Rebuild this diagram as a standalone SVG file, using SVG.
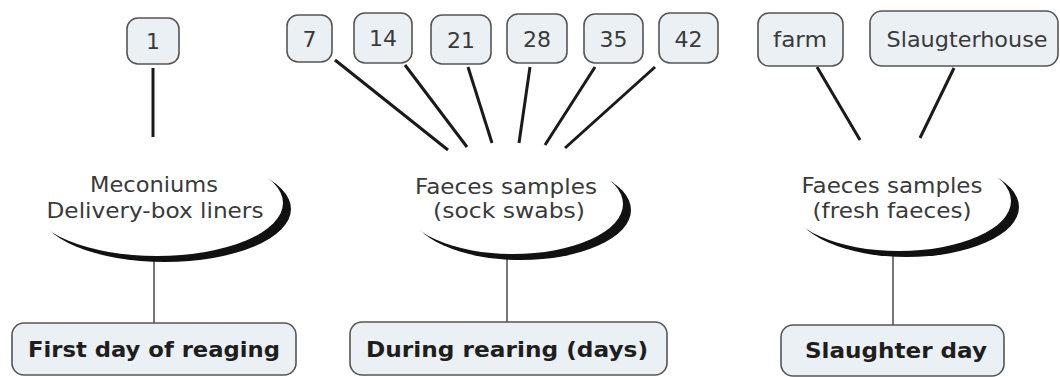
<svg xmlns="http://www.w3.org/2000/svg" width="1060" height="377" viewBox="0 0 1060 377">
<style>
.box{fill:#eaf0f3;stroke:#555;stroke-width:1.6}
.t{font-family:"DejaVu Sans",Verdana,sans-serif;font-size:21px;fill:#3a3a3a;text-anchor:middle}
.n{font-size:22px}
.b{font-family:"DejaVu Sans",Verdana,sans-serif;font-size:22px;font-weight:bold;fill:#1e1e1e;text-anchor:middle}
.thick{stroke:#1a1a1a;stroke-width:3;fill:none}
.thin{stroke:#555;stroke-width:1.6;fill:none}
.sh{fill:#111}
.wh{fill:#fff}
</style>
<rect width="1060" height="377" fill="#fff"/>
<g id="connectors">
<line class="thick" x1="153" y1="68" x2="153" y2="137"/>
<line class="thick" x1="335" y1="60" x2="448" y2="150"/>
<line class="thick" x1="405" y1="65" x2="467" y2="147"/>
<line class="thick" x1="468" y1="67" x2="492" y2="143"/>
<line class="thick" x1="530" y1="67" x2="519" y2="143"/>
<line class="thick" x1="595" y1="67" x2="545" y2="145"/>
<line class="thick" x1="655" y1="67" x2="565" y2="148"/>
<line class="thick" x1="817" y1="67" x2="860" y2="140"/>
<line class="thick" x1="954" y1="68" x2="920" y2="138"/>
<line class="thin" x1="154" y1="261" x2="154" y2="323"/>
<line class="thin" x1="507" y1="259" x2="507" y2="322"/>
<line class="thin" x1="893" y1="256" x2="893" y2="325"/>
</g>
<g id="n1"><rect class="box" x="127" y="18" width="52" height="46" rx="11"/><text class="t n" x="153" y="49">1</text></g>
<g id="n7"><rect class="box" x="287" y="15" width="45" height="47" rx="11"/><text class="t n" x="309.5" y="47">7</text></g>
<g id="n14"><rect class="box" x="354" y="13" width="58" height="50" rx="11"/><text class="t n" x="383" y="46">14</text></g>
<g id="n21"><rect class="box" x="431" y="15" width="60" height="49" rx="11"/><text class="t n" x="461" y="48">21</text></g>
<g id="n28"><rect class="box" x="507" y="14" width="60" height="49" rx="11"/><text class="t n" x="537" y="47">28</text></g>
<g id="n35"><rect class="box" x="584" y="14" width="59" height="49" rx="11"/><text class="t n" x="613.5" y="47">35</text></g>
<g id="n42"><rect class="box" x="659" y="13" width="59" height="50" rx="11"/><text class="t n" x="688.5" y="47">42</text></g>
<g id="nfarm"><rect class="box" x="758" y="13" width="85" height="53" rx="11"/><text class="t" x="800" y="47" textLength="54" lengthAdjust="spacingAndGlyphs">farm</text></g>
<g id="nslaughterhouse"><rect class="box" x="870" y="11" width="188" height="55" rx="12"/><text class="t" x="967" y="47" textLength="161" lengthAdjust="spacingAndGlyphs">Slaugterhouse</text></g>
<g id="e1">
<ellipse class="sh" cx="165" cy="209" rx="126" ry="53"/>
<ellipse class="wh" cx="157" cy="203" rx="126" ry="53"/>
<text class="t" x="154" y="192" textLength="128" lengthAdjust="spacingAndGlyphs">Meconiums</text>
<text class="t" x="155" y="218" textLength="217" lengthAdjust="spacingAndGlyphs">Delivery-box liners</text>
</g>
<g id="e2">
<ellipse class="sh" cx="521" cy="210" rx="110" ry="50"/>
<ellipse class="wh" cx="513" cy="204" rx="110" ry="50"/>
<text class="t" x="506" y="194" textLength="182" lengthAdjust="spacingAndGlyphs">Faeces samples</text>
<text class="t" x="509" y="218" textLength="152" lengthAdjust="spacingAndGlyphs">(sock swabs)</text>
</g>
<g id="e3">
<ellipse class="sh" cx="907" cy="207" rx="112" ry="50"/>
<ellipse class="wh" cx="899" cy="201" rx="112" ry="50"/>
<text class="t" x="892" y="193" textLength="181" lengthAdjust="spacingAndGlyphs">Faeces samples</text>
<text class="t" x="892" y="218" textLength="159" lengthAdjust="spacingAndGlyphs">(fresh faeces)</text>
</g>
<g id="b1"><rect class="box" x="12" y="323" width="284" height="52" rx="12"/><text class="b" x="154" y="357" textLength="252" lengthAdjust="spacingAndGlyphs">First day of reaging</text></g>
<g id="b2"><rect class="box" x="350" y="322" width="317" height="53" rx="12"/><text class="b" x="507" y="357" textLength="282" lengthAdjust="spacingAndGlyphs">During rearing (days)</text></g>
<g id="b3"><rect class="box" x="781" y="325" width="223" height="51" rx="12"/><text class="b" x="896" y="358" textLength="182" lengthAdjust="spacingAndGlyphs">Slaughter day</text></g>
</svg>
